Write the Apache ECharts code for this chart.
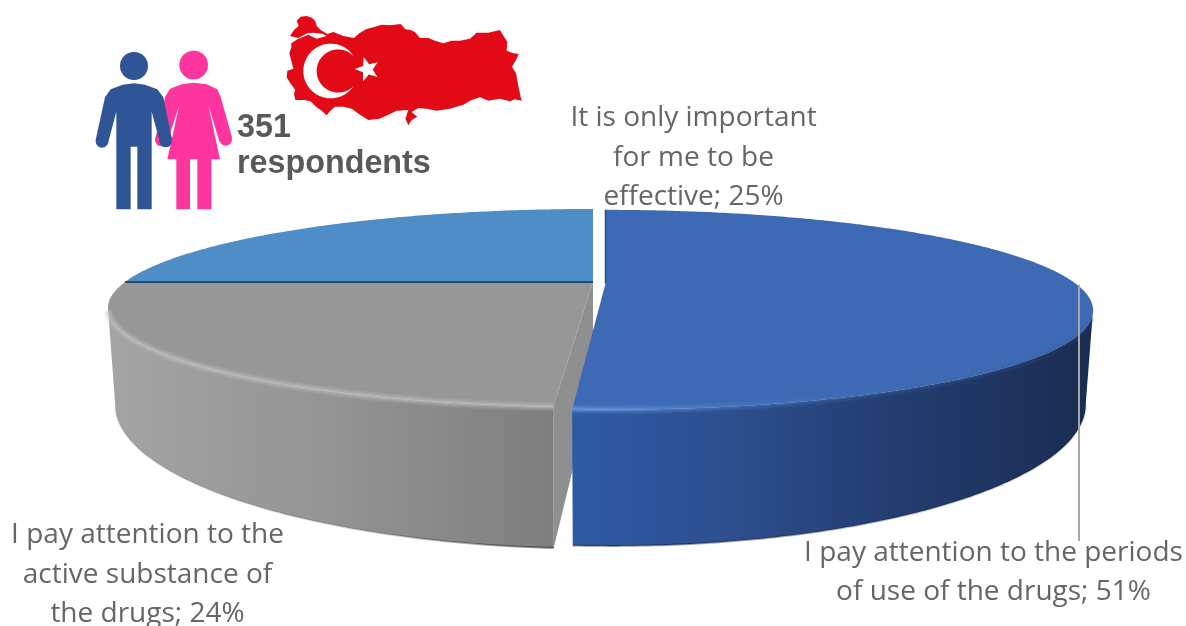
<!DOCTYPE html>
<html>
<head>
<meta charset="utf-8">
<style>html,body{margin:0;padding:0;background:#fff}#chart{width:1186px;height:626px}</style>
<script src="https://cdn.jsdelivr.net/npm/echarts@6/dist/echarts.min.js"></script>
</head>
<body>
<div id="chart"></div>
<script>
// Survey shares, clockwise from twelve o'clock
const categories = [
  'I pay attention to the periods\nof use of the drugs',
  'I pay attention to the\nactive substance of\nthe drugs',
  'It is only important\nfor me to be\neffective'
];
const shares = [51, 24, 25];
const respondents = 351;

// Where each label's centre sits
const labelAnchors = [[993.5, 572.5], [147.5, 575], [693.5, 158]];

// Perspective disc: a unit circle projected with depth factor `tilt`
const disc = { cx: 593, cy: 282, rx: 468, ry: 92.2, tilt: 0.2626, baseShrink: 0.985, depthPower: 1.6 };
const silhouette = Math.acos(disc.tilt);
const sliceLook = [
  { dx: 12.5, dxFront: 6.5, dv: 0.015, depth: 83, top: '#3e6ab5',
    rim: [[0, '#2d5aa6'], [0.3, '#2d4f8e'], [0.65, '#213c6e'], [1, '#1a2c50']],
    glow: [[0, 'rgba(120,165,235,0.95)'], [0.35, 'rgba(80,125,195,0.7)'], [1, 'rgba(50,80,140,0.3)']],
    wall: [Math.PI - silhouette, Infinity], glowFrom: Math.PI - silhouette + 0.08 },
  { dx: 0, dxFront: 0, dv: 0, depth: 86.8, apexDepth: 104, top: '#979797', cut: '#8f8f8f',
    rim: [[0, '#a4a4a4'], [0.5, '#949494'], [1, '#7e7e7e']],
    glow: [[0, 'rgba(195,195,195,0.95)'], [1, 'rgba(195,195,195,0.95)']],
    wall: [-Infinity, Math.PI + silhouette], glowTo: Math.PI + silhouette - 0.03 },
  { dx: 0, dxFront: 0, dv: 0, depth: 0, top: '#4f8dc6' }
];

function projectUV(u, v, look, atBase) {
  const w = 1 - disc.tilt * v;
  const s = atBase ? disc.baseShrink : 1;
  const drop = atBase ? look.depth / Math.pow(w, disc.depthPower) : 0;
  // The pulled-out slice drifts a little further sideways towards the viewer
  const front = Math.max(v, 0);
  return [
    disc.cx + look.dx + look.dxFront * front * front + disc.rx * s * u / w,
    disc.cy + disc.ry * v / w + drop
  ];
}
function project(angle, look, atBase) {
  return projectUV(Math.sin(angle), -Math.cos(angle) + look.dv, look, atBase);
}
function arc(from, to, look, atBase) {
  const pts = [];
  const n = Math.max(2, Math.ceil(Math.abs(to - from) / 0.01));
  for (let i = 0; i <= n; i++) pts.push(project(from + (to - from) * i / n, look, atBase));
  return pts;
}
function hGradient(x0, x1, stops) {
  return new echarts.graphic.LinearGradient(x0, 0, x1, 0, stops.map(s => ({ offset: s[0], color: s[1] })), true);
}
const total = shares.reduce((a, b) => a + b, 0);
const sliceZ = [3, 1, 2];

function renderSlice(params, api) {
  const i = params.dataIndex;
  const before = shares.slice(0, i).reduce((a, b) => a + b, 0);
  const a0 = before / total * 2 * Math.PI;
  const a1 = a0 + api.value(1) / total * 2 * Math.PI;
  const look = sliceLook[i];
  const apex = projectUV(0, look.dv, look, false);
  const children = [];
  const add = (pts, style) => children.push({ type: 'polygon', shape: { points: pts }, style: style, silent: true });
  const stroke = (pts, style) => children.push({ type: 'polyline', shape: { points: pts }, style: Object.assign({ fill: 'none' }, style), silent: true });

  if (look.rim) {
    // Visible outer wall, from the silhouette edge to the slice's cut
    const wallFrom = Math.max(a0, look.wall[0]);
    const wallTo = Math.min(a1, look.wall[1]);
    const topArc = arc(wallFrom, wallTo, look, false);
    const baseArc = arc(wallFrom, wallTo, look, true);
    const xs = topArc.concat(baseArc).map(p => p[0]);
    const xMin = Math.min.apply(null, xs), xMax = Math.max.apply(null, xs);
    if (look.cut) {
      // Cut face towards the neighbouring slice
      const apexBase = [apex[0], apex[1] + look.apexDepth];
      add([apex, project(a0, look, false), project(a0, look, true), apexBase], { fill: look.cut });
    }
    add(topArc.concat(baseArc.slice().reverse()), { fill: hGradient(xMin, xMax, look.rim) });
    // Dark line along the foot of the wall
    stroke(baseArc, { stroke: hGradient(xMin, xMax, i === 0
      ? [[0, 'rgba(20,20,40,0.5)'], [1, 'rgba(20,20,40,0.1)']]
      : [[0, 'rgba(60,60,60,0.05)'], [0.6, 'rgba(40,40,40,0.2)'], [1, 'rgba(30,30,30,0.55)']]), lineWidth: 2 });
  }
  // Top face
  add([apex].concat(arc(a0, a1, look, false)), { fill: look.top });
  if (look.glow) {
    // Soft bevel where the top face meets the wall
    const edge = i === 0 ? arc(look.glowFrom, a1, look, false) : arc(a0, look.glowTo, look, false);
    const xs = edge.map(p => p[0]);
    const grad = hGradient(Math.min.apply(null, xs), Math.max.apply(null, xs), look.glow);
    [[9, 0.16], [6, 0.26], [3, 0.4]].forEach(b => stroke(edge, { stroke: grad, lineWidth: b[0], opacity: b[1] }));
  }
  if (i === 2) {
    // Thin dark seam against the grey slice
    stroke([project(a0, look, false), apex], { stroke: '#274a70', lineWidth: 2 });
  }
  if (i === 0) {
    stroke([project(a0, look, false), apex], { stroke: '#2f4f88', lineWidth: 1.5 });
  }
  return { type: 'group', children: children.map(c => Object.assign(c, { z2: sliceZ[i] })) };
}

// Person pictograms and the map outline
const turkeyOutline = [
  [50,32],[62,20],[80,18],[97,24],[106,34],[110,48],[122,60],[142,72],[160,66],[190,78],[222,84],[238,70],[258,58],
  [285,50],[305,44],[330,46],[362,42],[376,58],[392,60],[405,66],[420,84],[445,84],[465,92],[490,100],[515,92],[540,92],
  [570,86],[590,68],[625,68],[660,60],[672,80],[682,95],[680,122],[700,130],[716,132],[708,150],[696,170],[708,190],[714,222],
  [722,262],[726,272],[704,268],[690,274],[660,266],[625,272],[600,262],[575,270],[550,284],[510,296],[470,302],[440,296],
  [415,294],[395,306],[412,320],[395,330],[385,346],[376,326],[385,300],[350,302],[322,316],[298,326],[265,330],[240,314],
  [215,296],[190,290],[165,290],[150,304],[140,316],[125,302],[108,290],[92,274],[72,270],[46,270],[42,252],[46,240],[30,218],
  [20,202],[22,182],[40,176],[34,152],[28,130],[34,112],[34,100],[52,88],[85,74],[110,86],[140,78],[130,72],[100,68],[82,70],[55,84],[30,78],[42,60],[56,48]
];
const manBody = [
  [162,250],[195,254],[232,268],[250,292],[276,418],[240,428],[215,335],[215,628],[172,628],[172,440],[152,440],
  [152,628],[109,628],[109,335],[84,430],[47,420],[75,292],[92,268],[128,254]
];
const womanBody = [
  [341,248],[380,253],[412,268],[422,290],[456,412],[418,424],[385,315],[420,478],[394,478],[394,628],[352,628],
  [352,478],[330,478],[330,628],[289,628],[289,478],[262,478],[298,315],[262,425],[226,415],[255,292],[270,266],[305,253]
];
const manHands = [[66, 424], [257, 423]];
const womanHands = [[437, 418], [244, 420]];
function starPoints(cx, cy, r) {
  const pts = [];
  for (let i = 0; i < 10; i++) {
    const a = Math.PI + 0.03 + i * Math.PI / 5;
    const rr = i % 2 ? r * 0.42 : r;
    pts.push([cx + rr * Math.cos(a), cy + rr * Math.sin(a)]);
  }
  return pts;
}
function crescentPoints(cxOuter, rOuter, cxInner, rInner, cy, tipX) {
  const pts = [];
  const outerA = Math.acos((tipX - cxOuter) / rOuter);
  const innerA = Math.acos((tipX - cxInner) / rInner);
  for (let t = outerA; t <= 2 * Math.PI - outerA; t += 0.04) pts.push([cxOuter + rOuter * Math.cos(t), cy - rOuter * Math.sin(t)]);
  for (let t = 2 * Math.PI - innerA; t >= innerA; t -= 0.04) pts.push([cxInner + rInner * Math.cos(t), cy - rInner * Math.sin(t)]);
  return pts;
}
const hand = (p, fill, z2) => ({ type: 'circle', shape: { cx: p[0], cy: p[1], r: 19 }, style: { fill: fill }, z2: z2 });
const graphics = [
  { type: 'group', x: 80, y: 0, scaleX: 1 / 3, scaleY: 1 / 3, silent: true, children: [
    { type: 'circle', shape: { cx: 341, cy: 195, r: 43 }, style: { fill: '#ff359f' } },
    { type: 'polygon', shape: { points: womanBody }, style: { fill: '#ff359f' } }
  ].concat(womanHands.map(p => hand(p, '#ff359f', 0))).concat([
    { type: 'circle', shape: { cx: 162, cy: 198, r: 42 }, style: { fill: '#2f5597' }, z2: 2 },
    { type: 'polygon', shape: { points: manBody }, style: { fill: '#2f5597' }, z2: 2 }
  ]).concat(manHands.map(p => hand(p, '#2f5597', 2))) },
  { type: 'group', x: 280, y: 10, scaleX: 1 / 3, scaleY: 1 / 3, silent: true, children: [
    { type: 'polygon', shape: { points: turkeyOutline }, style: { fill: '#e30a17' } },
    { type: 'polygon', shape: { points: crescentPoints(152, 82, 174.6, 64.6, 183, 220) }, style: { fill: '#fff' }, z2: 2 },
    { type: 'polygon', shape: { points: starPoints(262, 178, 38) }, style: { fill: '#fff' }, z2: 2 }
  ] },
  { type: 'text', x: 237, y: 146, style: { text: respondents + '\nrespondents', font: 'bold 32.3px "Liberation Sans"', fill: '#595959', lineHeight: 36, verticalAlign: 'middle', align: 'left' }, silent: true },
  { type: 'line', shape: { x1: 1079, y1: 285, x2: 1079, y2: 541 }, style: { stroke: '#a6a6a6', lineWidth: 2 }, z: 5, silent: true }
];
categories.forEach((name, i) => {
  graphics.push({
    type: 'text', x: labelAnchors[i][0], y: labelAnchors[i][1], z: 6, silent: true,
    style: { text: name + '; ' + shares[i] + '%', font: '28px "Open Sans"', fill: '#666666', lineHeight: 39.5, align: 'center', verticalAlign: 'middle' }
  });
});

const chart = echarts.init(document.getElementById('chart'), null, { renderer: 'canvas' });
chart.setOption({
  animation: false,
  backgroundColor: '#ffffff',
  graphic: { elements: graphics },
  series: [{
    type: 'custom',
    coordinateSystem: 'none',
    renderItem: renderSlice,
    silent: true,
    data: shares.map((v, i) => [i, v])
  }]
});
</script>
</body>
</html>
